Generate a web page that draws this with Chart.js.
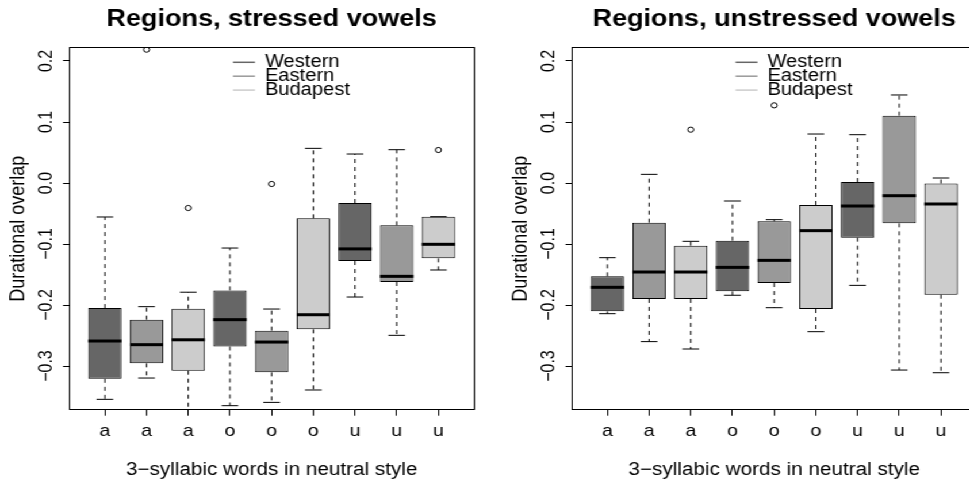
<!DOCTYPE html>
<html>
<head>
<meta charset="utf-8">
<script src="https://cdn.jsdelivr.net/npm/chart.js@4.4.1/dist/chart.umd.min.js"></script>
<style>
  body { margin: 0; background: #fff; }
  #wrap { position: relative; width: 969px; height: 486px; overflow: hidden; background: #fff; }
  /* the reference is stretched sideways, so the charts are drawn narrow and widened */
  #inner { position: absolute; left: 0; top: 0; width: 874px; height: 486px; transform: scaleX(1.15); transform-origin: 0 0; }
  canvas { position: absolute; top: 0; }
</style>
</head>
<body>
<div id="wrap">
  <div id="inner">
    <canvas id="stressed" width="437" height="486" style="left:0"></canvas>
    <canvas id="unstressed" width="437" height="486" style="left:436.5px"></canvas>
  </div>
</div>
<script>
const vowels = ['a', 'a', 'a', 'o', 'o', 'o', 'u', 'u', 'u'];
const xPos = [1, 2, 3, 4, 5, 6, 7, 8, 9];
const regions = ['Western', 'Eastern', 'Budapest'];
const regionColors = ['#666666', '#999999', '#cccccc'];
const yTicks = [-0.3, -0.2, -0.1, 0, 0.1, 0.2];
const yTickLabels = ['\u22120.3', '\u22120.2', '\u22120.1', '0.0', '0.1', '0.2'];
const yMin = -0.3716, yMax = 0.2218;
const xMin = 0.14, xMax = 9.86;

// stressed vowels
const stressedLow = [-0.3546, -0.3197, -0.385, -0.365, -0.3596, -0.3393, -0.1869, -0.2497, -0.1426];
const stressedQ1 = [-0.321, -0.2956, -0.3077, -0.268, -0.3104, -0.2399, -0.1279, -0.1623, -0.1235];
const stressedMed = [-0.259, -0.265, -0.257, -0.224, -0.2607, -0.2159, -0.108, -0.153, -0.1005];
const stressedQ3 = [-0.205, -0.224, -0.206, -0.176, -0.242, -0.0579, -0.0328, -0.0694, -0.0552];
const stressedHigh = [-0.0557, -0.2027, -0.179, -0.1066, -0.2066, 0.0568, 0.0475, 0.0546, -0.0552];
const stressedOutX = [2, 3, 5, 9];
const stressedOutY = [0.2186, -0.041, -0.0016, 0.0541];

// unstressed vowels
const unstressedLow = [-0.2142, -0.260, -0.2721, -0.184, -0.2044, -0.2437, -0.1678, -0.3066, -0.311];
const unstressedQ1 = [-0.2104, -0.190, -0.190, -0.1776, -0.164, -0.2066, -0.0896, -0.0661, -0.1831];
const unstressedMed = [-0.171, -0.1459, -0.1459, -0.1383, -0.1268, -0.0781, -0.0377, -0.0208, -0.0344];
const unstressedQ3 = [-0.153, -0.065, -0.1027, -0.0945, -0.0628, -0.036, 0.0016, 0.1104, 0.0];
const unstressedHigh = [-0.1224, 0.0142, -0.0956, -0.0295, -0.0601, 0.0803, 0.0792, 0.1443, 0.0082];
const unstressedOutX = [3, 5];
const unstressedOutY = [0.0874, 0.1273];

Chart.defaults.font.family = "'Liberation Sans', Arial, sans-serif";
Chart.defaults.color = '#000';

function boxParts(low, med, high) {
    return {
        id: 'boxParts',
        beforeDatasetsDraw(chart) {
            // dashed whiskers and their caps, under the boxes
            const { ctx, scales: { x, y } } = chart;
            const bars = chart.getDatasetMeta(0).data;
            ctx.save();
            ctx.beginPath();
            ctx.rect(x.left, y.top, x.right - x.left, y.bottom - y.top);
            ctx.clip();
            ctx.strokeStyle = '#000';
            ctx.lineWidth = 1;
            bars.forEach((bar, i) => {
                const top = Math.min(bar.y, bar.base);
                const bottom = Math.max(bar.y, bar.base);
                const yLo = y.getPixelForValue(low[i]);
                const yHi = y.getPixelForValue(high[i]);
                const cap = bar.width / 4;
                ctx.setLineDash([4, 4]);
                ctx.beginPath();
                ctx.moveTo(bar.x, bottom); ctx.lineTo(bar.x, yLo);
                ctx.moveTo(bar.x, top); ctx.lineTo(bar.x, yHi);
                ctx.stroke();
                ctx.setLineDash([]);
                ctx.beginPath();
                ctx.moveTo(bar.x - cap, yLo); ctx.lineTo(bar.x + cap, yLo);
                ctx.moveTo(bar.x - cap, yHi); ctx.lineTo(bar.x + cap, yHi);
                ctx.stroke();
            });
            ctx.restore();
        },
        afterDatasetsDraw(chart) {
            // thick median lines
            const { ctx, scales: { y } } = chart;
            const bars = chart.getDatasetMeta(0).data;
            ctx.save();
            ctx.strokeStyle = '#000';
            ctx.lineWidth = 3;
            bars.forEach((bar, i) => {
                const ym = y.getPixelForValue(med[i]);
                ctx.beginPath();
                ctx.moveTo(bar.x - bar.width / 2, ym);
                ctx.lineTo(bar.x + bar.width / 2, ym);
                ctx.stroke();
            });
            ctx.restore();
        },
        afterDraw(chart) {
            // R style legend: short lines, tightly packed labels
            const { ctx, scales: { x, y } } = chart;
            ctx.save();
            ctx.font = "17.5px 'Liberation Sans', Arial, sans-serif";
            ctx.textBaseline = 'middle';
            ctx.textAlign = 'left';
            regions.forEach((r, i) => {
                const ly = y.top + 14.6 + i * 13.9;
                ctx.strokeStyle = regionColors[i];
                ctx.lineWidth = 1.5;
                ctx.beginPath();
                ctx.moveTo(x.left + 142.6, ly);
                ctx.lineTo(x.left + 161.7, ly);
                ctx.stroke();
                ctx.fillStyle = '#000';
                ctx.fillText(r, x.left + 170.4, ly);
            });
            ctx.restore();
        }
    };
}

// empty axes on the top and right just close the plot frame
const frameAxis = (position, min, max, fit) => ({
    type: 'linear',
    position: position,
    min: min,
    max: max,
    offset: false,
    afterFit: fit,
    ticks: { display: false },
    grid: { display: false, drawTicks: false },
    border: { display: true, color: '#000', width: 1 }
});

function makePanel(id, title, low, q1, med, q3, high, outX, outY) {
    const ctx = document.getElementById(id).getContext('2d');
    return new Chart(ctx, {
        type: 'bar',
        data: {
            datasets: [{
                type: 'bar',
                data: xPos.map((x, i) => ({ x: x, y: [q1[i], q3[i]] })),
                backgroundColor: xPos.map((x, i) => regionColors[i % 3]),
                borderColor: '#000',
                borderWidth: 1,
                borderSkipped: false,
                categoryPercentage: 1.0,
                barPercentage: 0.8,
                order: 2
            }, {
                type: 'scatter',
                data: outX.map((x, i) => ({ x: x, y: outY[i] })),
                pointRadius: 2.6,
                pointBorderWidth: 1,
                pointBorderColor: '#000',
                pointBackgroundColor: 'rgba(0,0,0,0)',
                order: 1
            }]
        },
        options: {
            responsive: false,
            animation: false,
            layout: { padding: { left: 0, right: 24.6, top: 0, bottom: 0 } },
            plugins: {
                legend: { display: false },
                tooltip: { enabled: false },
                title: {
                    display: true,
                    text: title,
                    fullSize: false,
                    font: { size: 23.5, weight: 'bold', lineHeight: 1.2 },
                    padding: { top: 5.9, bottom: 13.6 }
                }
            },
            scales: {
                x: {
                    type: 'linear',
                    min: xMin,
                    max: xMax,
                    offset: false,
                    afterBuildTicks: s => { s.ticks = xPos.map(v => ({ value: v })); },
                    afterFit: s => { s.height = 76.3; },
                    grid: { offset: false, drawOnChartArea: false, drawTicks: true, tickLength: 6, color: '#000' },
                    border: { display: true, color: '#000' },
                    ticks: {
                        font: { size: 17 },
                        padding: 5,
                        maxRotation: 0,
                        autoSkip: false,
                        callback: (v, i) => vowels[i]
                    },
                    title: {
                        display: true,
                        text: '3\u2212syllabic words in neutral style',
                        font: { size: 18, lineHeight: 1.2 },
                        padding: { top: 0, bottom: 5.2 }
                    }
                },
                y: {
                    type: 'linear',
                    min: yMin,
                    max: yMax,
                    afterBuildTicks: s => { s.ticks = yTicks.map(v => ({ value: v })); },
                    afterFit: s => { s.width = 60; },
                    grid: { drawOnChartArea: false, drawTicks: true, tickLength: 5.2, color: '#000' },
                    border: { display: true, color: '#000' },
                    ticks: {
                        font: { size: 16 },
                        minRotation: 90,
                        maxRotation: 90,
                        crossAlign: 'center',
                        padding: -1.9,
                        autoSkip: false,
                        callback: (v, i) => yTickLabels[i]
                    },
                    title: {
                        display: true,
                        text: 'Durational overlap',
                        font: { size: 18, lineHeight: 1.2 },
                        padding: { top: 5.4, bottom: 0 }
                    }
                },
                x2: frameAxis('top', xMin, xMax, s => { s.height = 0; }),
                y2: frameAxis('right', yMin, yMax, s => { s.width = 0; })
            }
        },
        plugins: [boxParts(low, med, high)]
    });
}

makePanel('stressed', 'Regions, stressed vowels',
    stressedLow, stressedQ1, stressedMed, stressedQ3, stressedHigh, stressedOutX, stressedOutY);
makePanel('unstressed', 'Regions, unstressed vowels',
    unstressedLow, unstressedQ1, unstressedMed, unstressedQ3, unstressedHigh, unstressedOutX, unstressedOutY);
</script>
</body>
</html>
